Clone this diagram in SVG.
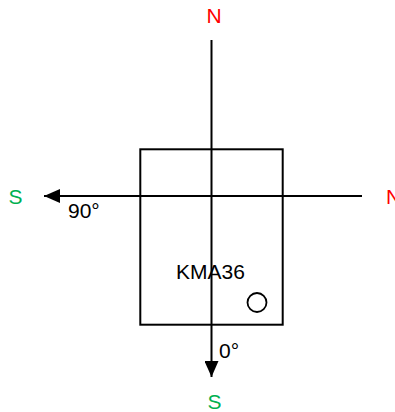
<svg xmlns="http://www.w3.org/2000/svg" width="395" height="412" viewBox="0 0 395 412">
<style>
text{font-family:"Liberation Sans",Arial,sans-serif;font-size:21px;fill:#000}
.n{fill:#ff0000}
.s{fill:#00b050}
.ln{stroke:#000;stroke-width:2;fill:none}
</style>
<defs>
<marker id="ah" viewBox="0 0 16 14" refX="16" refY="7" markerWidth="16" markerHeight="14" markerUnits="userSpaceOnUse" orient="auto">
<path d="M0,0 L16,7 L0,14 Z" fill="#000"/>
</marker>
</defs>
<g id="sensor">
<rect x="140.3" y="149.3" width="142.4" height="175.4" fill="#fff" stroke="#000" stroke-width="2"/>
<text x="176" y="278.5">KMA36</text>
<circle cx="257" cy="302.5" r="9.5" fill="none" stroke="#000" stroke-width="1.8"/>
</g>
<g id="connectors">
<line class="ln" x1="211.5" y1="40" x2="211.5" y2="377" marker-end="url(#ah)"/>
<line class="ln" x1="362" y1="196" x2="44" y2="196" marker-end="url(#ah)"/>
</g>
<g id="labels">
<text class="n" x="214" y="23" text-anchor="middle">N</text>
<text class="s" x="15.5" y="204" text-anchor="middle">S</text>
<text class="n" x="386" y="204">N</text>
<text class="s" x="214.5" y="409" text-anchor="middle">S</text>
<text x="68" y="218">90°</text>
<text x="219" y="357.5">0°</text>
</g>
</svg>
